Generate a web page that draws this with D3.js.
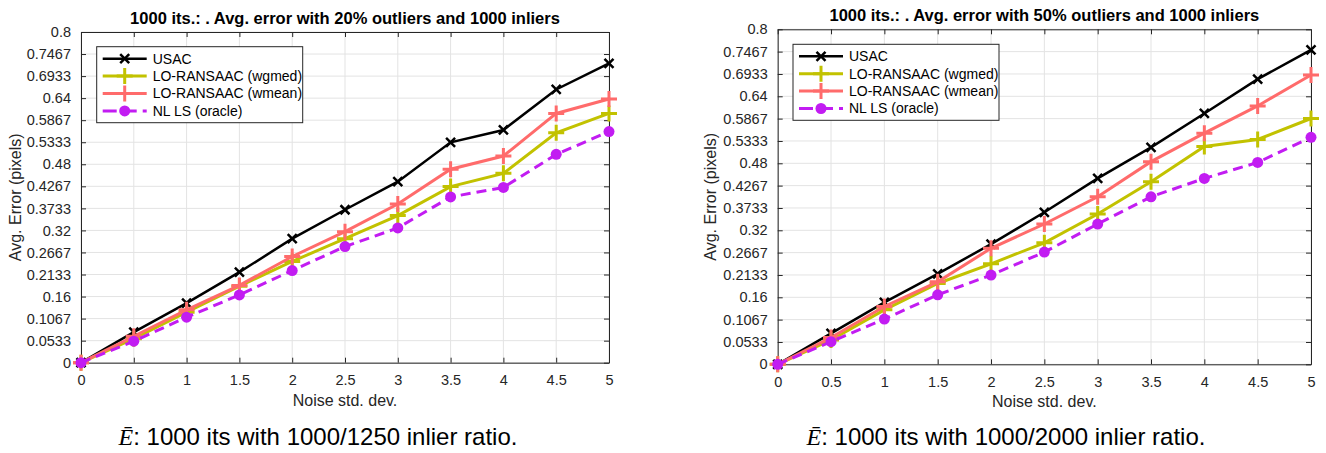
<!DOCTYPE html>
<html lang="en">
<head>
<meta charset="utf-8" />
<title>Avg. error vs noise</title>
<script src="https://cdn.jsdelivr.net/npm/d3@7"></script>
<style>
  body { margin: 0; background: #fff; }
  svg text { font-family: "Liberation Sans", Arial, Helvetica, sans-serif; }
</style>
</head>
<body>
<div id="chart"></div>
<script>
// x values shared by both panels
var noise = [0, 0.5, 1, 1.5, 2, 2.5, 3, 3.5, 4, 4.5, 5];
var xTickLabels = ["0", "0.5", "1", "1.5", "2", "2.5", "3", "3.5", "4", "4.5", "5"];
var yTickLabels = ["0", "0.0533", "0.1067", "0.16", "0.2133", "0.2667", "0.32", "0.3733",
  "0.4267", "0.48", "0.5333", "0.5867", "0.64", "0.6933", "0.7467", "0.8"];

var seriesNames = ["USAC", "LO-RANSAAC (wgmed)", "LO-RANSAAC (wmean)", "NL LS (oracle)"];

// 20% outliers
var usac20 = [0, 0.074, 0.144, 0.219, 0.300, 0.370, 0.438, 0.533, 0.563, 0.661, 0.724];
var wgmed20 = [0, 0.058, 0.122, 0.185, 0.245, 0.300, 0.356, 0.426, 0.458, 0.556, 0.603];
var wmean20 = [0, 0.064, 0.128, 0.187, 0.257, 0.317, 0.384, 0.468, 0.500, 0.603, 0.638];
var nlls20 = [0, 0.052, 0.110, 0.164, 0.223, 0.281, 0.326, 0.401, 0.424, 0.504, 0.559];

// 50% outliers
var usac50 = [0, 0.074, 0.148, 0.216, 0.287, 0.363, 0.444, 0.518, 0.599, 0.681, 0.751];
var wgmed50 = [0, 0.058, 0.130, 0.193, 0.240, 0.290, 0.359, 0.436, 0.520, 0.537, 0.587];
var wmean50 = [0, 0.064, 0.138, 0.197, 0.277, 0.335, 0.400, 0.484, 0.552, 0.617, 0.691];
var nlls50 = [0, 0.054, 0.108, 0.166, 0.213, 0.268, 0.335, 0.400, 0.444, 0.482, 0.542];

var styles = [
  { color: "#000000", width: 2.5, dash: null, marker: "x" },
  { color: "#c2c200", width: 3, dash: null, marker: "+" },
  { color: "#ff6b6b", width: 3, dash: null, marker: "+" },
  { color: "#c21cf2", width: 3, dash: "10,6", marker: "o" }
];

var svg = d3.select("#chart").append("svg")
  .attr("width", 1326)
  .attr("height", 453);

function drawMarker(g, type, x, y, s) {
  if (type === "x") {
    g.append("path")
      .attr("d", "M" + (x - 4.5) + "," + (y - 4.5) + "L" + (x + 4.5) + "," + (y + 4.5) +
        "M" + (x - 4.5) + "," + (y + 4.5) + "L" + (x + 4.5) + "," + (y - 4.5))
      .attr("stroke", s.color).attr("stroke-width", 2.5).attr("fill", "none");
  } else if (type === "+") {
    g.append("path")
      .attr("d", "M" + (x - 8) + "," + y + "L" + (x + 8) + "," + y +
        "M" + x + "," + (y - 8) + "L" + x + "," + (y + 8))
      .attr("stroke", s.color).attr("stroke-width", 3).attr("fill", "none");
  } else {
    g.append("circle")
      .attr("cx", x).attr("cy", y).attr("r", 5.5)
      .attr("fill", s.color);
  }
}

function drawPanel(cfg) {
  var x = d3.scaleLinear().domain([0, 5]).range([cfg.left, cfg.right]);
  var y = d3.scaleLinear().domain([0, 0.8]).range([cfg.bottom, cfg.top]);
  var yTicks = yTickLabels.map(Number);
  var g = svg.append("g");

  // grid
  g.append("g").selectAll("line.gx").data(noise).enter().append("line")
    .attr("x1", d => x(d)).attr("x2", d => x(d))
    .attr("y1", cfg.top).attr("y2", cfg.bottom)
    .attr("stroke", "#e3e3e3").attr("stroke-width", 1);
  g.append("g").selectAll("line.gy").data(yTicks).enter().append("line")
    .attr("y1", d => y(d)).attr("y2", d => y(d))
    .attr("x1", cfg.left).attr("x2", cfg.right)
    .attr("stroke", "#e3e3e3").attr("stroke-width", 1);

  // axes (matlab style, inward ticks on all sides)
  var xb = g.append("g").attr("transform", "translate(0," + cfg.bottom + ")")
    .call(d3.axisBottom(x).tickValues(noise).tickSizeInner(-5).tickSizeOuter(0)
      .tickPadding(12).tickFormat((d, i) => xTickLabels[i]));
  var xt = g.append("g").attr("transform", "translate(0," + cfg.top + ")")
    .call(d3.axisTop(x).tickValues(noise).tickSizeInner(-5).tickSizeOuter(0).tickFormat(""));
  var yl = g.append("g").attr("transform", "translate(" + cfg.left + ",0)")
    .call(d3.axisLeft(y).tickValues(yTicks).tickSizeInner(-5).tickSizeOuter(0)
      .tickPadding(10).tickFormat((d, i) => yTickLabels[i]));
  var yr = g.append("g").attr("transform", "translate(" + cfg.right + ",0)")
    .call(d3.axisRight(y).tickValues(yTicks).tickSizeInner(-5).tickSizeOuter(0).tickFormat(""));

  [xb, xt, yl, yr].forEach(function (a) {
    a.selectAll("path, line").attr("stroke", "#262626").attr("stroke-width", 1);
    a.selectAll("text").attr("fill", "#262626").style("font-size", "14.5px")
      .style("font-family", "'Liberation Sans', Arial, sans-serif");
  });

  // series
  cfg.series.forEach(function (vals, k) {
    var s = styles[k];
    var line = d3.line().x((d, i) => x(noise[i])).y(d => y(d));
    g.append("path").datum(vals)
      .attr("d", line)
      .attr("fill", "none")
      .attr("stroke", s.color)
      .attr("stroke-width", s.width)
      .attr("stroke-dasharray", s.dash);
    vals.forEach(function (v, i) {
      drawMarker(g, s.marker, x(noise[i]), y(v), s);
    });
  });

  // title
  g.append("text")
    .attr("x", (cfg.left + cfg.right) / 2).attr("y", cfg.top - 8)
    .attr("text-anchor", "middle")
    .style("font-size", "16.5px").style("font-weight", "bold")
    .text(cfg.title);

  // axis labels
  g.append("text")
    .attr("x", (cfg.left + cfg.right) / 2).attr("y", cfg.bottom + 43)
    .attr("text-anchor", "middle").attr("fill", "#262626")
    .style("font-size", "16px")
    .text("Noise std. dev.");
  g.append("text")
    .attr("transform", "translate(" + cfg.ylabelX + "," + (cfg.top + cfg.bottom) / 2 + ") rotate(-90)")
    .attr("text-anchor", "middle").attr("dy", "0.35em").attr("fill", "#262626")
    .style("font-size", "16px")
    .text("Avg. Error (pixels)");

  // legend
  var lg = g.append("g");
  lg.append("rect")
    .attr("x", cfg.legend[0]).attr("y", cfg.legend[1])
    .attr("width", 206).attr("height", 76)
    .attr("fill", "#fff").attr("stroke", "#262626").attr("stroke-width", 1);
  seriesNames.forEach(function (name, k) {
    var s = styles[k];
    var ly = cfg.legend[1] + 12 + k * 17.4;
    var lx = cfg.legend[0] + 6;
    lg.append("line")
      .attr("x1", lx).attr("x2", lx + 44).attr("y1", ly).attr("y2", ly)
      .attr("stroke", s.color).attr("stroke-width", s.width)
      .attr("stroke-dasharray", s.dash ? "14,6" : null);
    drawMarker(lg, s.marker, lx + 22, ly, s);
    lg.append("text")
      .attr("x", lx + 50).attr("y", ly).attr("dy", "0.35em")
      .style("font-size", "14px").attr("fill", "#000")
      .text(name);
  });

  // caption
  var cap = g.append("text")
    .attr("x", cfg.captionX).attr("y", 445)
    .attr("text-anchor", "middle")
    .style("font-size", "24px");
  cap.append("tspan")
    .style("font-family", "'Liberation Serif', 'DejaVu Serif', serif")
    .style("font-style", "italic")
    .text("\u0112");
  cap.append("tspan").text(cfg.caption);
}

drawPanel({
  left: 81, right: 609, top: 32, bottom: 362.7,
  ylabelX: 15, captionX: 318,
  legend: [96.7, 46.7],
  title: "1000 its.: . Avg. error with 20% outliers and 1000 inliers",
  caption: ": 1000 its with 1000/1250 inlier ratio.",
  series: [usac20, wgmed20, wmean20, nlls20]
});

drawPanel({
  left: 777.7, right: 1311, top: 29.3, bottom: 364.3,
  ylabelX: 710, captionX: 1006,
  legend: [793, 44.3],
  title: "1000 its.: . Avg. error with 50% outliers and 1000 inliers",
  caption: ": 1000 its with 1000/2000 inlier ratio.",
  series: [usac50, wgmed50, wmean50, nlls50]
});
</script>
</body>
</html>
